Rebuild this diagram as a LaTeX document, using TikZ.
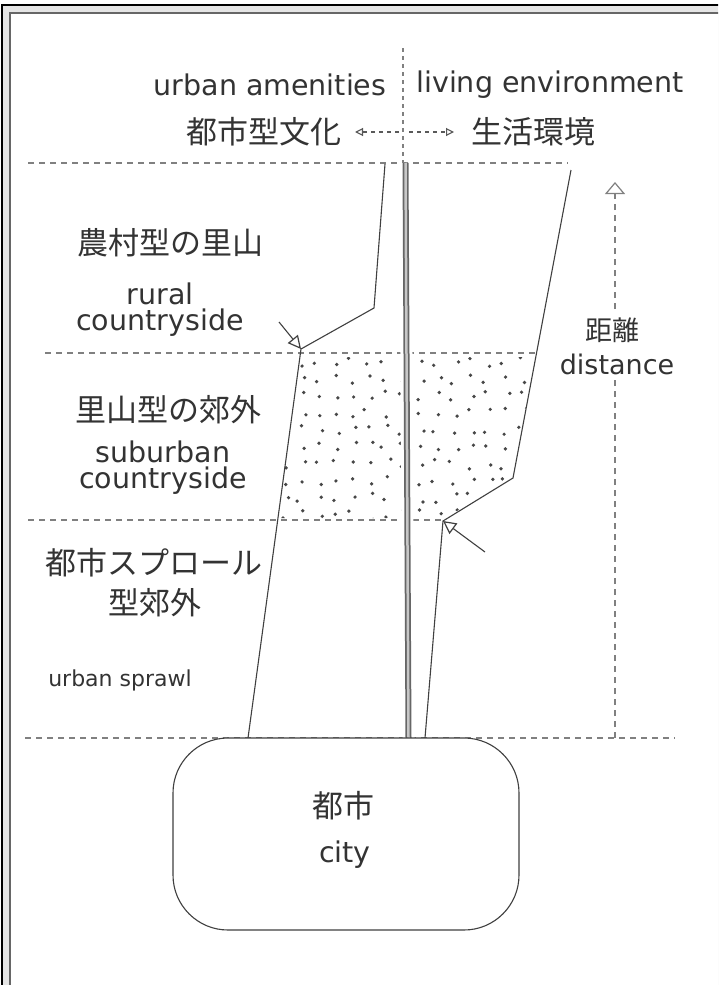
\documentclass[tikz,border=0pt]{standalone}
\usepackage{fontspec}
\setmainfont{DejaVu Sans}
\newfontfamily\cjk{Noto Sans CJK JP}
\usetikzlibrary{arrows.meta}
\begin{document}
\begin{tikzpicture}[x=1pt,y=-1pt,
  dashline/.style={line width=1.2pt, black!50, dash pattern=on 6pt off 5pt},
  bnd/.style={line width=1.1pt, black!75},
  jp/.style={font=\cjk\fontsize{31}{34}\selectfont, text=black!80, inner sep=0pt},
  en/.style={font=\fontsize{28.5}{31}\selectfont, text=black!80, inner sep=0pt},
  entwo/.style={font=\fontsize{28.5}{26}\selectfont, text=black!80, inner sep=0pt, align=center},
  opentip/.style={-{Triangle[open,length=13pt,width=13pt,line width=1.2pt]}},
  smalltip/.style={-{Triangle[open,length=8pt,width=8pt,line width=1.1pt]}},
  ptr/.style={line width=1.1pt, black!75, opentip}]
\useasboundingbox (0,0) rectangle (718,985);
\clip (0,0) rectangle (718,985);
% frame
\fill[black!10] (2,5) rectangle (730,1000);
\draw[black, line width=1.5pt] (2,1000) -- (2,5) -- (730,5);
\fill[white] (10,13) rectangle (730,1000);
\draw[black!60, line width=2pt] (10,1000) -- (10,13) -- (730,13);

% coordinates
\coordinate (L0) at (385,164);
\coordinate (L1) at (374,308);
\coordinate (L2) at (301,349);
\coordinate (L3) at (248,738);
\coordinate (R0) at (571,170);
\coordinate (R1) at (513,478);
\coordinate (R2) at (443,521);
\coordinate (R3) at (425,738);
\coordinate (B0) at (405.5,163);
\coordinate (B1) at (408.5,738);

% dotted region
\begin{scope}
\clip (301,357) -- (535,357) -- (513,478) -- (445,518) -- (277,518) -- cycle;
\pgfmathsetseed{11}
\foreach \x in {284,301,...,545} {
  \foreach \y in {362,379,...,521} {
    \pgfmathsetmacro\dx{\x+5*rand}
    \pgfmathsetmacro\dy{\y+5*rand}
    \fill[black!72] (\dx,\dy) circle (1.85pt);
  }
}
\end{scope}

% dashed level lines
\draw[dashline] (28,163) -- (568,163);
\draw[dashline] (45,353) -- (537,353);
\draw[dashline] (28,520) -- (443,520);
\draw[dashline] (25,738) -- (675,738);
\draw[dashline, dash pattern=on 4pt off 4pt] (403,48) -- (403,163);

% boundary lines
\draw[bnd] (L0) -- (L1) -- (L2) -- (L3);
\draw[bnd] (R0) -- (R1) -- (R2) -- (R3);

% central bar
\draw[white, line width=12pt] (B0) -- (B1);
\draw[black!60, line width=6pt] (B0) -- (B1);
\draw[black!22, line width=2.5pt] (B0) -- (B1);

% pointer arrows
\coordinate (la) at (279,322);
\coordinate (ra) at (485,552);
\draw[ptr] (la) -- (L2);
\draw[ptr] (ra) -- (R2);

% top labels
\node[en] (amen) at (270,85) {urban amenities};
\node[en] (living) at (550,85) {living environment};
\node[jp] (amenjp) at (264,132) {都市型文化};
\node[jp] (livingjp) at (533,132) {生活環境};
\coordinate (cl) at (399,132);
\coordinate (cr) at (409,132);
\draw[dashline, black!65, dash pattern=on 4pt off 4pt, line width=1.2pt, smalltip] (cl) -- (amenjp.east -| 355,0);
\draw[dashline, black!65, dash pattern=on 4pt off 4pt, line width=1.2pt, smalltip] (cr) -- (livingjp.west -| 454,0);

% left labels
\node[jp] (rurjp) at (170,243) {農村型の里山};
\node[entwo] (rur) at (160,310) {rural\\countryside};
\node[jp] (subjp) at (168,410) {里山型の郊外};
\node[entwo] (sub) at (163,468) {suburban\\countryside};
\node[jp] (spjp1) at (154,563) {都市スプロール};
\node[jp] (spjp2) at (155,603) {型郊外};
\node[en, font=\fontsize{22}{25}\selectfont] (sp) at (120,680) {urban sprawl};

% distance arrow
\coordinate (dbot) at (615,738);
\coordinate (dtop) at (615,182);
\draw[dashline, line width=1.1pt, -{Triangle[open,length=12pt,width=20pt,line width=1.2pt]}] (dbot) -- (dtop);
\fill[white] (552,310) rectangle (682,378);
\node[jp, font=\cjk\fontsize{27}{28}\selectfont] (distjp) at (612,330) {距離};
\node[en, font=\fontsize{27}{28}\selectfont] (dist) at (617,364) {distance};

% city
\node[draw=black!75, line width=1.1pt, fill=white, rounded corners=55pt,
      minimum width=346pt, minimum height=192pt, inner sep=0pt] (city) at (346,834) {};
\node[jp] (cityjp) at (343,806) {都市};
\node[en] (cityen) at (345,855) {city};
\end{tikzpicture}
\end{document}
